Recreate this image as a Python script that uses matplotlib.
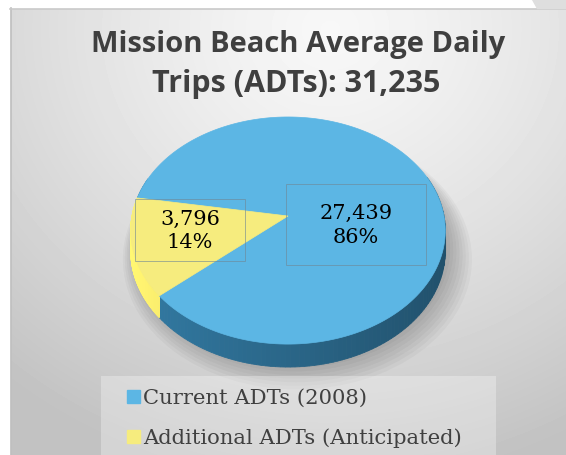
import numpy as np
import matplotlib
matplotlib.use('Agg')
import matplotlib.pyplot as plt
from matplotlib.patches import Polygon, Rectangle, Ellipse
from matplotlib.colors import to_rgb

title_lines = ['Mission Beach Average Daily', 'Trips (ADTs): 31,235']
categories = ['Current ADTs (2008)', 'Additional ADTs (Anticipated)']
trips = [27439, 3796]
shares = [86, 14]  # percent labels as printed on the chart
top_colors = ['#5cb6e4', '#f6ec7e']
side_colors = ['#2a6688', '#d6cc5e']

W, H = 566, 456
fig = plt.figure(figsize=(W / 100, H / 100), dpi=100)
ax = fig.add_axes([0, 0, 1, 1])
ax.set_xlim(0, W)
ax.set_ylim(H, 0)
ax.axis('off')

# background: grey panel with soft light gradient
yy, xx = np.mgrid[0:H, 0:W]
d = np.hypot(xx - 330, (yy - 30) * 1.1)
shade = np.clip(0.97 - (d / 520) ** 1.3 * 0.22, 0.76, 0.97)
ax.imshow(shade, cmap='gray', vmin=0, vmax=1, extent=[0, W, H, 0],
          aspect='auto', zorder=0, interpolation='bilinear')
ax.add_patch(Rectangle((0, 0), W, 9, color='white', zorder=1))
ax.add_patch(Rectangle((0, 0), 10, H, color='white', zorder=1))
ax.plot([10.5, 10.5], [9, H], color='#bdbdbd', lw=1.2, zorder=1)
ax.plot([10, W], [9.5, 9.5], color='#c9c9c9', lw=1.2, zorder=1)
ax.add_patch(Polygon([(532, 0), (W, 0), (W, 9), (537, 9)], color='#dedede', zorder=1))

# title
ax.text(298, 52, title_lines[0], ha='center', va='baseline', fontsize=21,
        fontweight='bold', family='Open Sans', color='#3f3f3f', zorder=5)
ax.text(296, 92, title_lines[1], ha='center', va='baseline', fontsize=22,
        fontweight='bold', family='Open Sans', color='#3f3f3f', zorder=5)

# 3d pie with slight perspective
cx, cy = 288, 217
R, Ry, k, depth = 156, 111.7, 0.128, 20
start = np.deg2rad(170.5)


def proj(theta, r=1.0, dz=0.0):
    u = r * np.cos(theta)
    v = -r * np.sin(theta)
    w = 1 - k * v
    return cx + R * u / w, cy + (Ry * v + dz) / w


# soft shadow, mostly below and to the right
for i in range(10):
    ax.add_patch(Ellipse((292 + i * 0.6, 246 + i * 1.6), 2 * 152 + i * 5,
                         2 * 112 + i * 4, color='black', alpha=0.03, lw=0,
                         zorder=2))

fracs = np.array(shares) / sum(shares)
bounds = start - np.concatenate([[0], np.cumsum(fracs)]) * 2 * np.pi

for i in range(len(trips)):
    th = np.linspace(bounds[i], bounds[i + 1], 200)
    # side wall
    base = np.array(to_rgb(side_colors[i]))
    for a, b in zip(th[:-1], th[1:]):
        if np.sin((a + b) / 2) > 0.35:
            continue
        f = 1 - 0.22 * np.cos((a + b) / 2)
        col = np.clip(base * f, 0, 1)
        x1, y1 = proj(a)
        x2, y2 = proj(b)
        x3, y3 = proj(b, dz=depth)
        x4, y4 = proj(a, dz=depth)
        ax.add_patch(Polygon([(x1, y1), (x2, y2), (x3, y3), (x4, y4)],
                             facecolor=col, edgecolor=col, lw=0.6, zorder=3))
    # top face
    xs, ys = proj(th)
    pts = [(cx, cy)] + list(zip(xs, ys))
    ax.add_patch(Polygon(pts, facecolor=top_colors[i], edgecolor=top_colors[i],
                         lw=0.5, zorder=4))

# data labels
label_boxes = [(286, 185, 140, 81), (135, 200, 110, 62)]
for i, (bx, by, bw, bh) in enumerate(label_boxes):
    ax.add_patch(Rectangle((bx, by), bw, bh, fill=False, edgecolor='#6f8795',
                           lw=0.6, alpha=0.7, zorder=5))
    ax.text(bx + bw / 2, by + bh / 2, f'{trips[i]:,}\n{shares[i]}%',
            ha='center', va='center', fontsize=15, family='DejaVu Serif',
            color='black', linespacing=1.3, zorder=6)

# legend
ax.add_patch(Rectangle((101, 377), 395, H - 377, facecolor='white', alpha=0.3,
                       lw=0, zorder=5))
for i, name in enumerate(categories):
    y = 398 + i * 40
    ax.add_patch(Rectangle((127, y - 6.5), 13, 13, color=top_colors[i], zorder=6))
    ax.text(143, y, name, ha='left', va='center', fontsize=15.2,
            family='DejaVu Serif', color='#404040', zorder=6)

fig.savefig('out.png', dpi=100)
